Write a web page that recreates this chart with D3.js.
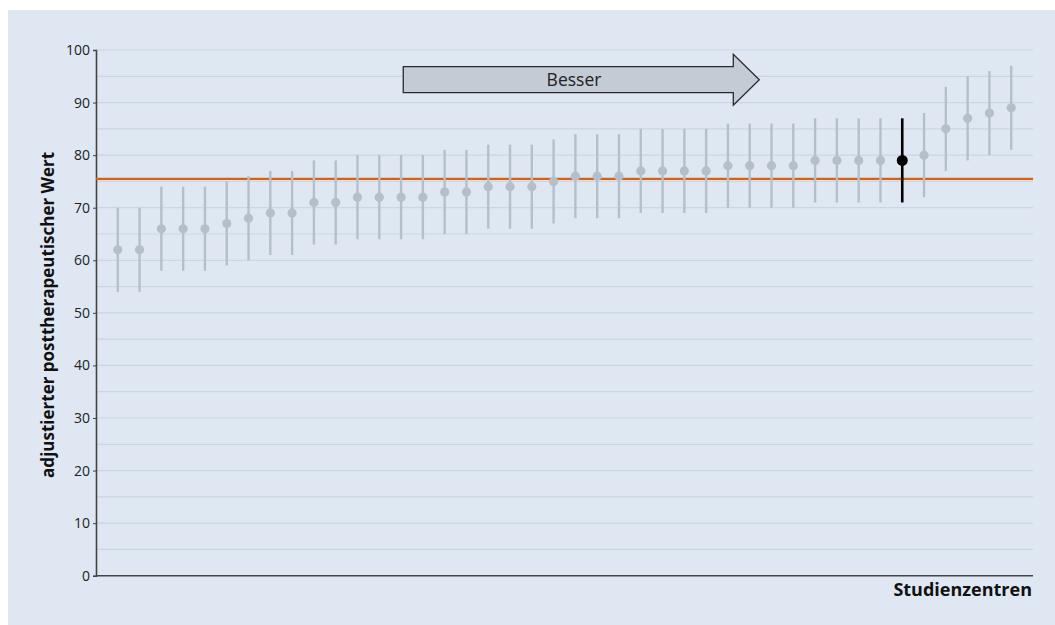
<!DOCTYPE html>
<html>
<head>
<meta charset="utf-8">
<script src="https://cdn.jsdelivr.net/npm/d3@7"></script>
<style>
  html, body { margin: 0; padding: 0; background: #ffffff; }
  svg { display: block; }
</style>
</head>
<body>
<svg id="chart" width="1055" height="625"></svg>
<script>
// ---- Data ----
const centers = d3.range(1, 43); // 42 study centers
const values = [62, 62, 66, 66, 66, 67, 68, 69, 69, 71, 71, 72, 72, 72, 72, 73, 73, 74, 74, 74, 75,
                76, 76, 76, 77, 77, 77, 77, 78, 78, 78, 78, 79, 79, 79, 79, 79, 80, 85, 87, 88, 89];
const lower  = [54, 54, 58, 58, 58, 59, 60, 61, 61, 63, 63, 64, 64, 64, 64, 65, 65, 66, 66, 66, 67,
                68, 68, 68, 69, 69, 69, 69, 70, 70, 70, 70, 71, 71, 71, 71, 71, 72, 77, 79, 80, 81];
const upper  = [70, 70, 74, 74, 74, 75, 76, 77, 77, 79, 79, 80, 80, 80, 80, 81, 81, 82, 82, 82, 83,
                84, 84, 84, 85, 85, 85, 85, 86, 86, 86, 86, 87, 87, 87, 87, 87, 88, 93, 95, 96, 97];
const highlight = 37;        // own center (black)
const reference = 75.5;      // orange reference line
const yTicks = [0, 10, 20, 30, 40, 50, 60, 70, 80, 90, 100];
const yGrid  = d3.range(5, 101, 5);
const yTitle = "adjustierter posttherapeutischer Wert";
const xTitle = "Studienzentren";
const arrowLabel = "Besser";
const arrowFrom = 14.1, arrowTo = 30.44, arrowVal = 94.35; // arrow position in data units

// ---- Layout ----
const svg = d3.select("#chart");
const mLeft = 96, mRight = 1033, mTop = 50, mBottom = 575.7;

svg.append("rect").attr("x", 8).attr("y", 10).attr("width", 1055 - 8).attr("height", 625 - 10)
  .attr("fill", "#dfe8f2");

const x = d3.scaleLinear().domain([0, 43]).range([mLeft, mRight]);
const y = d3.scaleLinear().domain([0, 100]).range([mBottom, mTop]);

// grid lines
svg.append("g").selectAll("line").data(yGrid).join("line")
  .attr("x1", mLeft).attr("x2", mRight)
  .attr("y1", d => y(d)).attr("y2", d => y(d))
  .attr("stroke", "#c9d6e5").attr("stroke-width", 1.2);

// y axis
const yAxis = d3.axisLeft(y).tickValues(yTicks).tickSize(3).tickPadding(3);
const gy = svg.append("g").attr("transform", `translate(${mLeft},0)`).call(yAxis);
gy.select(".domain").attr("stroke", "#444").attr("stroke-width", 1.6);
gy.selectAll(".tick line").attr("stroke", "#444");
gy.selectAll(".tick text").attr("font-family", "Open Sans, sans-serif")
  .attr("font-size", 14).attr("fill", "#222");

// x axis line
svg.append("line").attr("x1", mLeft).attr("x2", mRight)
  .attr("y1", y(0)).attr("y2", y(0)).attr("stroke", "#444").attr("stroke-width", 1.6);

// reference line
svg.append("line").attr("x1", mLeft).attr("x2", mRight)
  .attr("y1", y(reference)).attr("y2", y(reference))
  .attr("stroke", "#d9600f").attr("stroke-width", 2.2);

// arrow
const ax0 = x(arrowFrom), ax1 = x(arrowTo), ayc = y(arrowVal);
const bodyH = 13, headH = 25.5, headL = 26;
const arrowPath = d3.path();
arrowPath.moveTo(ax0, ayc - bodyH);
arrowPath.lineTo(ax1 - headL, ayc - bodyH);
arrowPath.lineTo(ax1 - headL, ayc - headH);
arrowPath.lineTo(ax1, ayc);
arrowPath.lineTo(ax1 - headL, ayc + headH);
arrowPath.lineTo(ax1 - headL, ayc + bodyH);
arrowPath.lineTo(ax0, ayc + bodyH);
arrowPath.closePath();
svg.append("path").attr("d", arrowPath.toString())
  .attr("fill", "#c3cbd5").attr("stroke", "#2a2a2a").attr("stroke-width", 1.3);
svg.append("text").attr("x", 574).attr("y", ayc + 6.5)
  .attr("text-anchor", "middle").attr("font-family", "Open Sans, sans-serif")
  .attr("font-size", 17.5).attr("fill", "#222").text(arrowLabel);

// whiskers and points
const data = centers.map((c, i) => ({c, v: values[i], lo: lower[i], hi: upper[i], hl: c === highlight}));
const g = svg.append("g");
g.selectAll("line.ci").data(data).join("line").attr("class", "ci")
  .attr("x1", d => x(d.c)).attr("x2", d => x(d.c))
  .attr("y1", d => y(d.lo)).attr("y2", d => y(d.hi))
  .attr("stroke", d => d.hl ? "#000" : "#b5bfca")
  .attr("stroke-width", d => d.hl ? 2.6 : 2.4);
g.selectAll("circle").data(data).join("circle")
  .attr("cx", d => x(d.c)).attr("cy", d => y(d.v))
  .attr("r", d => d.hl ? 5.5 : 4.6)
  .attr("fill", d => d.hl ? "#000" : "#b5bfca");

// titles
svg.append("text")
  .attr("transform", `translate(54,${(mTop + mBottom) / 2 + 2}) rotate(-90)`)
  .attr("text-anchor", "middle").attr("font-family", "Open Sans, sans-serif")
  .attr("font-weight", "bold").attr("font-size", 17).attr("fill", "#111").text(yTitle);
svg.append("text").attr("x", 1032).attr("y", 596)
  .attr("text-anchor", "end").attr("font-family", "Open Sans, sans-serif")
  .attr("font-weight", "bold").attr("font-size", 18).attr("fill", "#111").text(xTitle);
</script>
</body>
</html>
